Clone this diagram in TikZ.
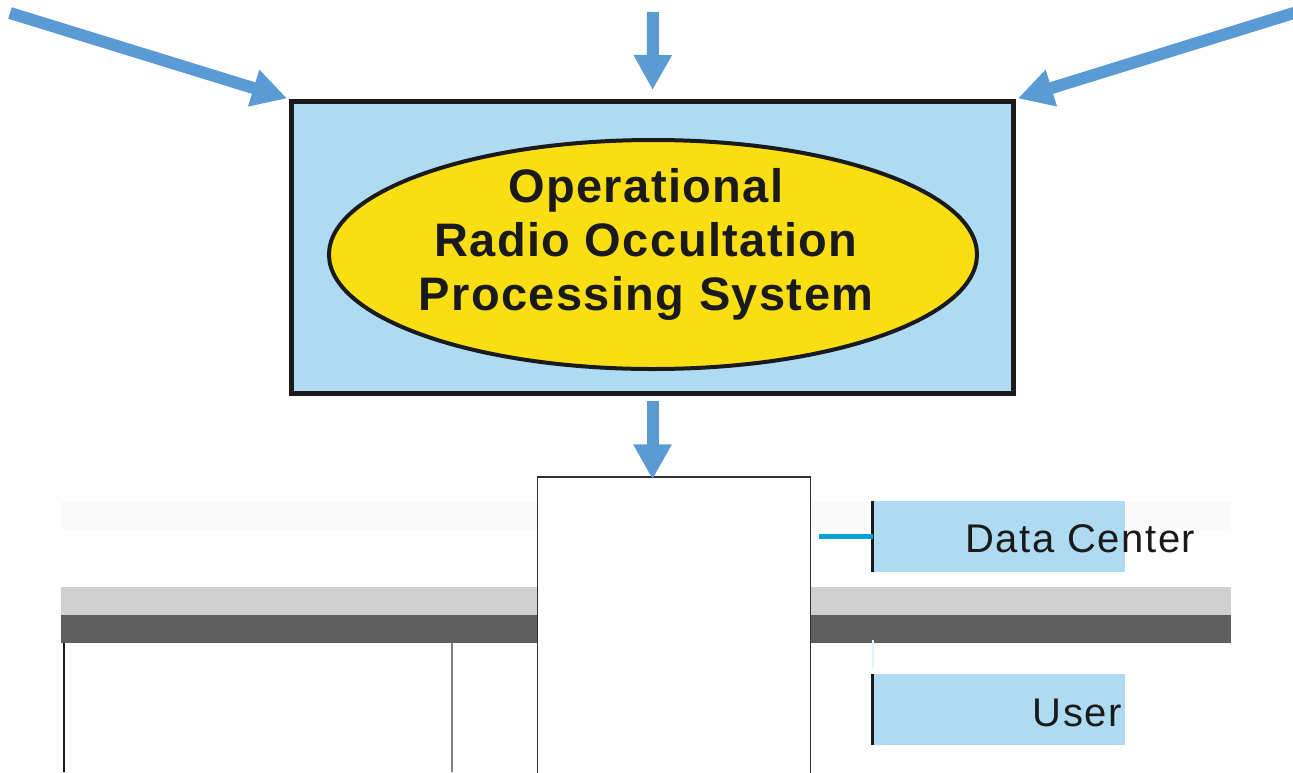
\documentclass[tikz,border=0pt]{standalone}
\usepackage{fontspec}
\setmainfont{Liberation Sans}
\newfontfamily\titlefont[LetterSpace=3]{Liberation Sans}
\newfontfamily\boxfont[LetterSpace=4]{Liberation Sans}
\usetikzlibrary{arrows.meta,shapes.geometric,positioning,calc}

\definecolor{flowblue}{RGB}{91,155,213}
\definecolor{panelblue}{RGB}{174,219,241}
\definecolor{sunyellow}{RGB}{249,222,20}
\definecolor{inkblack}{RGB}{26,26,26}
\definecolor{linkcyan}{RGB}{0,163,214}
\definecolor{bandfaint}{RGB}{250,250,250}
\definecolor{bandlight}{RGB}{208,208,208}
\definecolor{banddark}{RGB}{94,94,94}
\definecolor{faintblue}{RGB}{225,244,252}

\begin{document}
\begin{tikzpicture}[x=1pt, y=-1pt,
	bigarrow/.style={flowblue, line width=12pt, -{Triangle[length=35pt, width=36pt]}},
	sidebox/.style={fill=panelblue, inner sep=0pt, minimum width=252, minimum height=71},
	sidetext/.style={inner sep=0pt, text=inkblack, font=\boxfont\fontsize{40}{44}\selectfont}]
	\useasboundingbox (0,0) rectangle (1293,772);
	\clip (0,0) rectangle (1293,772);

	% background bands
	\fill[bandfaint] (61,502) rectangle (1231,529);
	\fill[bandlight] (61,587) rectangle (1231,615);
	\fill[banddark] (61,615) rectangle (1231,643);
	\draw[inkblack, line width=2pt] (63.5,643) -- (63.5,772);
	\draw[gray, line width=1.8pt] (452,643) -- (452,772);

	% processing system
	\node[draw=inkblack, line width=5pt, fill=panelblue, inner sep=0pt,
		minimum width=722, minimum height=292] (sys) at (652.5,247.5) {};
	\node[ellipse, draw=inkblack, line width=4pt, fill=sunyellow, inner sep=0pt,
		minimum width=648, minimum height=229] (core) at (653,254.5) {};
	\node[anchor=north, inner sep=0pt, align=center, text=inkblack,
		font=\titlefont\bfseries\fontsize{47}{54}\selectfont] (title) at (646,168.5)
		{Operational\\Radio Occultation\\Processing System};

	% inputs
	\coordinate (tsrc) at (653,12);
	\coordinate (lsrc) at (10,13);
	\coordinate (rsrc) at (1297,12);
	\draw[bigarrow, shorten >=9pt] (tsrc) -- (sys.north);
	\foreach \src/\dst in {lsrc/north west, rsrc/north east}
		\draw[bigarrow, shorten >=2pt] (\src) -- (sys.\dst);

	% output
	\node[draw=inkblack!90, line width=1.2pt, fill=white, inner sep=0pt,
		minimum width=273, minimum height=323] (store) at (674,638.5) {};
	\draw[bigarrow, shorten <=5pt, shorten >=-3pt] (sys.south) -- (sys.south |- store.north);

	\node[sidebox] (dc) at (999,536.5) {};
	\node[sidebox] (usr) at (999,709.5) {};
	\foreach \n in {dc, usr}
		\draw[inkblack, line width=3pt] (\n.north west) -- (\n.south west);
	\draw[linkcyan, line width=5pt, shorten <=8pt] (dc.west -| store.east) -- (dc.west);
	\draw[faintblue, line width=1.5pt] ($(usr.north west)+(0,-6)$) -- ++(0,-28);
	\node[sidetext, anchor=base west] (dclabel) at (965,552) {Data Center};
	\node[sidetext, anchor=base east] (usrlabel) at (1122,726) {User};
\end{tikzpicture}
\end{document}
